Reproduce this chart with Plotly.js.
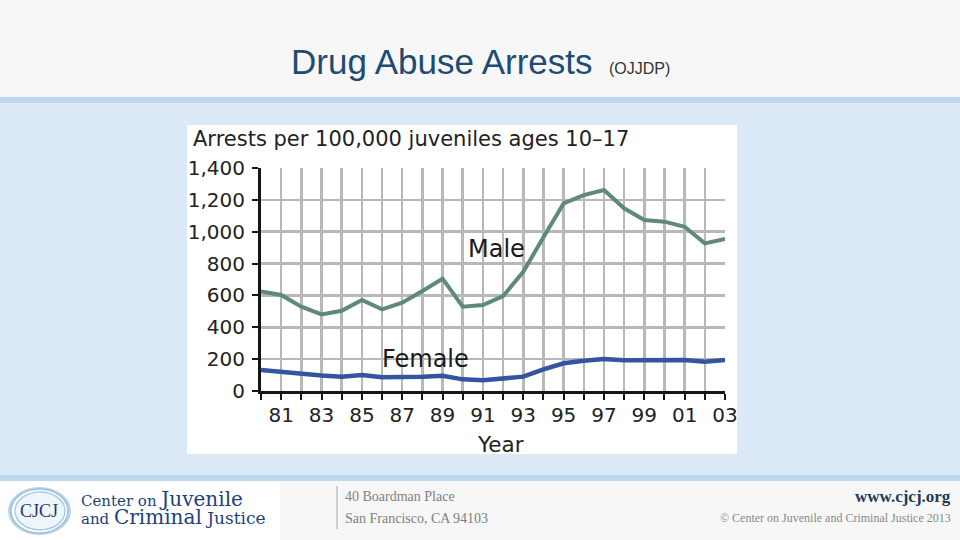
<!DOCTYPE html>
<html><head><meta charset="utf-8">
<script src="https://cdn.plot.ly/plotly-3.0.1.min.js"></script>
<style>html,body{margin:0;padding:0;background:#f7f7f7;}#chart{width:960px;height:540px;}</style>
</head><body><div id="chart"></div>
<script>
// ---- data ----
const years = [1980,1981,1982,1983,1984,1985,1986,1987,1988,1989,1990,1991,1992,1993,1994,1995,1996,1997,1998,1999,2000,2001,2002,2003];
const male = [625,603,529,481,504,571,513,554,628,705,529,540,596,748,965,1178,1230,1262,1147,1073,1063,1031,927,954];
const female = [132,119,107,98,90,100,86,86,90,96,73,67,75,90,136,174,190,201,193,193,193,195,184,195];
const xTickText = ['','81','','83','','85','','87','','89','','91','','93','','95','','97','','99','','01','','03'];
const yTickVals = [0,200,400,600,800,1000,1200,1400];

// ---- geometry helpers (pixel -> paper) ----
const L=261, R=725, T=168, B=391;
const W=R-L, H=B-T;
const px = x => (x-L)/W;
const py = y => (B-y)/H;

function rect(x0,y0,x1,y1,fill,line){
  return {type:'rect',xref:'paper',yref:'paper',layer:'below',
    x0:px(x0),x1:px(x1),y0:py(y1),y1:py(y0),fillcolor:fill,
    line:line||{width:0}};
}
function ell(x0,y0,x1,y1,fill,line){
  return {type:'circle',xref:'paper',yref:'paper',layer:'below',
    x0:px(x0),x1:px(x1),y0:py(y1),y1:py(y0),fillcolor:fill,
    line:line||{width:0}};
}
function ann(text,x,y,xa,size,color,family,extra){
  return Object.assign({text:text,xref:'paper',yref:'paper',x:px(x),y:py(y),
    xanchor:xa,yanchor:'middle',showarrow:false,
    font:{size:size,color:color,family:family}},extra||{});
}
const SANS='Liberation Sans, Arial, sans-serif';
const DSANS='DejaVu Sans, Verdana, sans-serif';
const SERIF='Liberation Serif, Times New Roman, serif';
const DSERIF='DejaVu Serif, Georgia, serif';

const shapes=[
  rect(0,0,960,97,'#f7f7f7'),
  rect(0,97,960,103,'#bdd7ee'),
  rect(0,475,960,481,'#bdd7ee'),
  rect(0,481,960,540,'#f7f7f7'),
  rect(0,481,280,540,'#ffffff'),
  rect(187,125,737,454,'#ffffff'),
  {type:'line',xref:'paper',yref:'paper',layer:'below',x0:px(337),x1:px(337),y0:py(529),y1:py(486),line:{color:'#a8a8a8',width:1}},
  ell(8,487,71,535,'#b9d5ea'),
  ell(11,489,68,533,'#ffffff',{color:'#9cc2df',width:1.5}),
  ell(15,492,65,530,'#eef5fb',{color:'#a9cbe4',width:1.5})
];

const annotations=[
  ann('Drug Abuse Arrests',289,62,'left',35,'#1e4b74',SANS),
  ann('(OJJDP)',607,68,'left',16,'#333333',SANS),
  ann('Arrests per 100,000 juveniles ages 10\u201317',191,139,'left',21,'#222222',DSANS),
  ann('Male',496,249,'center',24,'#1a1a1a',DSANS),
  ann('Female',425,359,'center',24,'#1a1a1a',DSANS),
  ann('Year',500,444,'center',21.5,'#222222',DSANS),
  ann('CJCJ',39,511,'center',18,'#1f3c6e',SERIF),
  ann('<span style="font-size:15px">Center on </span><span style="font-size:20px">Juvenile</span><br><span style="font-size:15px">and </span><span style="font-size:20px">Criminal</span><span style="font-size:17px"> Justice</span>',79,508,'left',13.5,'#22417a',DSERIF,{align:'left'}),
  ann('40 Boardman Place',343,496,'left',14,'#808080',SERIF),
  ann('San Francisco, CA 94103',343,518,'left',14,'#808080',SERIF),
  ann('<b>www.cjcj.org</b>',953,496,'right',17,'#1f3b57',SERIF),
  ann('\u00a9 Center on Juvenile and Criminal Justice 2013',953,518,'right',12,'#888888',SERIF)
];

const traces=[
  {x:years,y:male,type:'scatter',mode:'lines',name:'Male',
   line:{color:'#5e8a76',width:4},hoverinfo:'skip'},
  {x:years,y:female,type:'scatter',mode:'lines',name:'Female',
   line:{color:'#34549f',width:4.5},hoverinfo:'skip'}
];

const axisCommon={showgrid:true,gridcolor:'#b8b8b8',gridwidth:2.5,
  showline:true,linecolor:'#151515',linewidth:3,zeroline:false,
  ticks:'outside',ticklen:6,tickwidth:2,tickcolor:'#151515',
  tickfont:{size:20,color:'#222222',family:DSANS},fixedrange:true};

const layout={
  width:960,height:540,
  margin:{l:L,r:960-R,t:T,b:540-B,pad:0},
  paper_bgcolor:'#dce9f6',plot_bgcolor:'#ffffff',
  showlegend:false,
  xaxis:Object.assign({},axisCommon,{range:[1980,2003],tickmode:'array',tickvals:years,ticktext:xTickText,ticklabelstandoff:-2}),
  yaxis:Object.assign({},axisCommon,{range:[0,1400],tickmode:'array',tickvals:yTickVals,tickformat:',',ticklabelstandoff:3}),
  shapes:shapes,
  annotations:annotations
};

Plotly.newPlot('chart',traces,layout,{displayModeBar:false,staticPlot:true});
</script>
</body></html>
